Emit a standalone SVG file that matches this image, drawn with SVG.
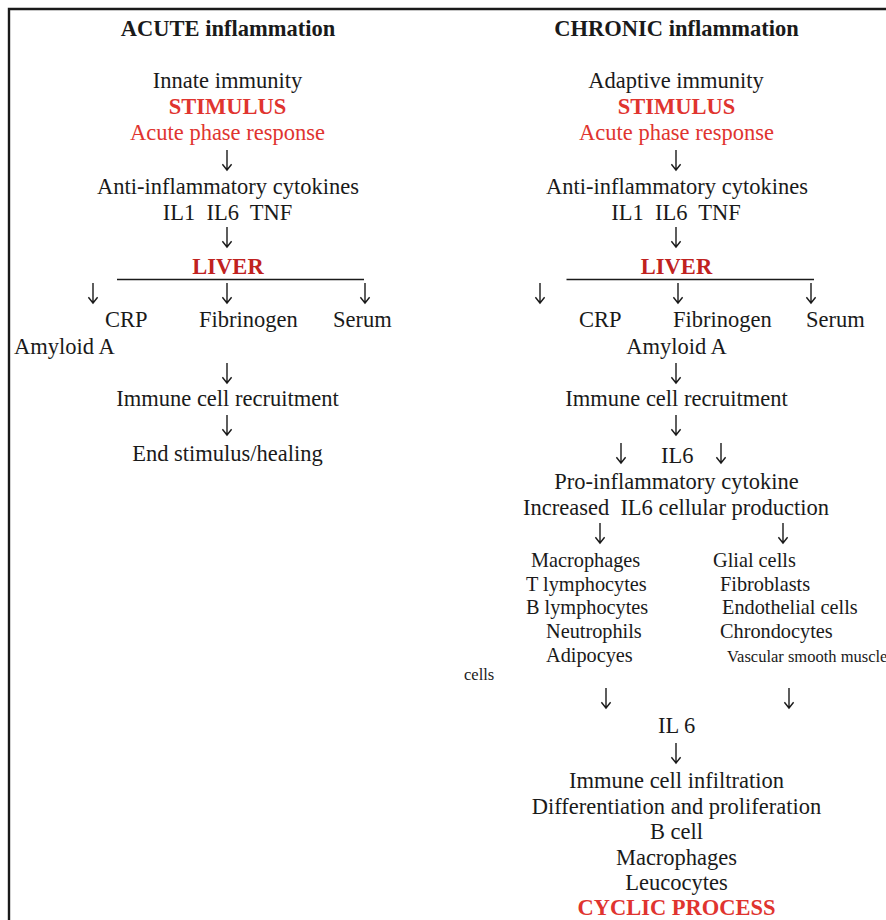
<svg xmlns="http://www.w3.org/2000/svg" xmlns:xlink="http://www.w3.org/1999/xlink" width="886" height="920" viewBox="0 0 886 920">
<style>
text{font-family:"Liberation Serif","Times New Roman",serif;font-size:22.5px;fill:#1a1a1a;white-space:pre}
.c{text-anchor:middle}
.b{font-weight:bold}
.red{fill:#e0342f}
.dred{fill:#c0221f}
.sm{font-size:20.3px}
.xs{font-size:16.5px}
.ln{stroke:#1a1a1a;stroke-width:1.6;fill:none}
.arr{stroke:#1a1a1a;stroke-width:1.4;fill:none}
</style>
<defs>
<path id="arr" class="arr" d="M0,0 V20 M-4.6,14.2 L0,20 L4.6,14.2"/>
</defs>
<rect width="886" height="920" fill="#ffffff"/>
<path id="frame" d="M9,921 V9 H887" fill="none" stroke="#1a1a1a" stroke-width="2.4"/>

<g id="acute">
<g id="a-title"><text class="c b" x="228" y="36">ACUTE inflammation</text></g>
<g id="a-stim">
<text class="c" x="227.5" y="87.5">Innate immunity</text>
<text class="c b red" x="227.5" y="113.5">STIMULUS</text>
<text class="c red" x="227.5" y="140">Acute phase response</text>
</g>
<g id="a-cyto">
<text class="c" x="228" y="194">Anti-inflammatory cytokines</text>
<text class="c" x="227.5" y="220" xml:space="preserve">IL1  IL6  TNF</text>
</g>
<g id="a-liver"><text class="c b dred" x="228" y="274">LIVER</text></g>
<g id="a-proteins">
<text x="105" y="327">CRP</text>
<text x="199" y="327">Fibrinogen</text>
<text x="333" y="327">Serum</text>
<text x="14" y="354">Amyloid A</text>
</g>
<g id="a-recruit"><text class="c" x="227.5" y="406">Immune cell recruitment</text></g>
<g id="a-end"><text class="c" x="227.5" y="461">End stimulus/healing</text></g>
</g>

<g id="chronic">
<g id="c-title"><text class="c b" x="676.5" y="36">CHRONIC inflammation</text></g>
<g id="c-stim">
<text class="c" x="676" y="87.5">Adaptive immunity</text>
<text class="c b red" x="676.5" y="113.5">STIMULUS</text>
<text class="c red" x="676.5" y="140">Acute phase response</text>
</g>
<g id="c-cyto">
<text class="c" x="677" y="194">Anti-inflammatory cytokines</text>
<text class="c" x="676" y="220" xml:space="preserve">IL1  IL6  TNF</text>
</g>
<g id="c-liver"><text class="c b dred" x="676.5" y="274">LIVER</text></g>
<g id="c-proteins">
<text x="579" y="327">CRP</text>
<text x="673" y="327">Fibrinogen</text>
<text x="806" y="327">Serum</text>
<text class="c" x="676.5" y="354">Amyloid A</text>
</g>
<g id="c-recruit"><text class="c" x="676.5" y="406">Immune cell recruitment</text></g>
<g id="c-il6a"><text x="661" y="463">IL6</text></g>
<g id="c-pro">
<text class="c" x="676.5" y="489">Pro-inflammatory cytokine</text>
<text class="c" x="676" y="515" xml:space="preserve">Increased  IL6 cellular production</text>
</g>
<g id="c-cells-left">
<text class="sm" x="531" y="567">Macrophages</text>
<text class="sm" x="526" y="590.5">T lymphocytes</text>
<text class="sm" x="526" y="614">B lymphocytes</text>
<text class="sm" x="546" y="637.5">Neutrophils</text>
<text class="sm" x="546" y="661.5">Adipocyes</text>
</g>
<g id="c-cells-right">
<text class="sm" x="713" y="567">Glial cells</text>
<text class="sm" x="720" y="590.5">Fibroblasts</text>
<text class="sm" x="722" y="614">Endothelial cells</text>
<text class="sm" x="720" y="637.5">Chrondocytes</text>
<text class="xs" x="727" y="662">Vascular smooth muscle</text>
<text class="xs" x="464" y="680">cells</text>
</g>
<g id="c-il6b"><text x="658" y="733" xml:space="preserve">IL 6</text></g>
<g id="c-infil">
<text class="c" x="676.5" y="788">Immune cell infiltration</text>
<text class="c" x="676.5" y="813.5">Differentiation and proliferation</text>
<text class="c" x="676.5" y="838.5">B cell</text>
<text class="c" x="676.5" y="864.5">Macrophages</text>
<text class="c" x="676.5" y="890">Leucocytes</text>
</g>
<g id="c-cyclic"><text class="c b red" x="676.5" y="915">CYCLIC PROCESS</text></g>
</g>

<g id="connectors">
<line class="ln" x1="117" y1="279.5" x2="364" y2="279.5"/>
<line class="ln" x1="566.5" y1="279.5" x2="814" y2="279.5"/>
<use xlink:href="#arr" x="227" y="150"/>
<use xlink:href="#arr" x="227" y="227"/>
<use xlink:href="#arr" x="93" y="283"/>
<use xlink:href="#arr" x="227" y="283"/>
<use xlink:href="#arr" x="365" y="283"/>
<use xlink:href="#arr" x="227" y="363"/>
<use xlink:href="#arr" x="227" y="415"/>
<use xlink:href="#arr" x="676" y="150"/>
<use xlink:href="#arr" x="676" y="227"/>
<use xlink:href="#arr" x="540" y="283"/>
<use xlink:href="#arr" x="678" y="283"/>
<use xlink:href="#arr" x="811" y="283"/>
<use xlink:href="#arr" x="676" y="363"/>
<use xlink:href="#arr" x="676" y="415"/>
<use xlink:href="#arr" x="621" y="443"/>
<use xlink:href="#arr" x="721" y="443"/>
<use xlink:href="#arr" x="600" y="523"/>
<use xlink:href="#arr" x="783" y="523"/>
<use xlink:href="#arr" x="606" y="688"/>
<use xlink:href="#arr" x="789" y="688"/>
<use xlink:href="#arr" x="676" y="743"/>
</g>
</svg>
